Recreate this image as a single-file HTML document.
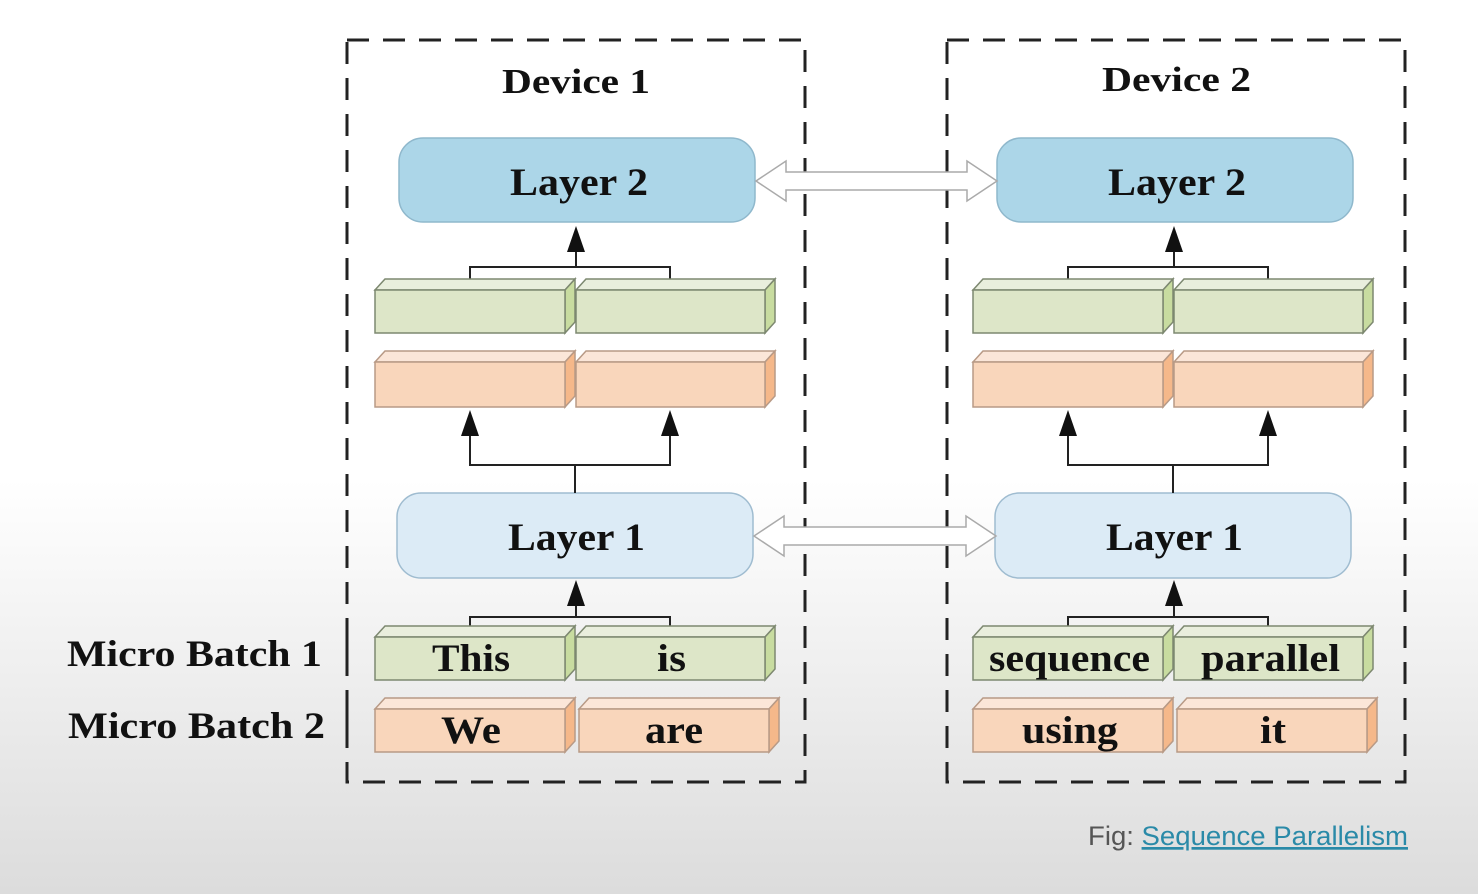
<!DOCTYPE html>
<html><head><style>
body{margin:0;width:1478px;height:894px;overflow:hidden;background:linear-gradient(to bottom,#fff 0,#fff 480px,#dcdcdc 894px);}
svg{position:absolute;left:0;top:0}
text{font-family:"Liberation Serif",serif;font-weight:bold;fill:#111}
</style></head><body>
<svg width="1478" height="894" xmlns="http://www.w3.org/2000/svg">
<g fill="none" stroke="#222" stroke-width="3" stroke-dasharray="22,14">
<rect x="347" y="40" width="458" height="742"/>
<rect x="947" y="40" width="458" height="742"/>
</g>
<text x="502" y="93" font-size="35" textLength="148" lengthAdjust="spacingAndGlyphs">Device 1</text>
<text x="1102" y="91" font-size="35" textLength="149" lengthAdjust="spacingAndGlyphs">Device 2</text>
<text x="67" y="666" font-size="37" textLength="255" lengthAdjust="spacingAndGlyphs">Micro Batch 1</text>
<text x="68" y="738" font-size="37" textLength="257" lengthAdjust="spacingAndGlyphs">Micro Batch 2</text>
<line x1="347" y1="630" x2="347" y2="668" stroke="#222" stroke-width="3"/>
<line x1="347" y1="705" x2="347" y2="745" stroke="#222" stroke-width="3"/>

<g id="dev">
<rect x="399" y="138" width="356" height="84" rx="24" fill="#acd6e8" stroke="#8fb8cc" stroke-width="1.5"/>
<text x="510" y="195" font-size="39" textLength="138" lengthAdjust="spacingAndGlyphs">Layer 2</text>
<rect x="397" y="493" width="356" height="85" rx="24" fill="#dcebf6" stroke="#9fbcd0" stroke-width="1.5"/>
<text x="508" y="550" font-size="39" textLength="137" lengthAdjust="spacingAndGlyphs">Layer 1</text>
<g stroke="#222" stroke-width="2" fill="none">
<polyline points="470,290 470,267 670,267 670,290"/>
<line x1="576" y1="267" x2="576" y2="245"/>
<polyline points="470,430 470,465 670,465 670,430"/>
<line x1="575" y1="465" x2="575" y2="493"/>
<polyline points="470,637 470,617 670,617 670,637"/>
<line x1="576" y1="617" x2="576" y2="600"/>
</g>
<g fill="#111">
<polygon points="576,226 567,252 585,252"/>
<polygon points="470,410 461,436 479,436"/>
<polygon points="670,410 661,436 679,436"/>
<polygon points="576,580 567,606 585,606"/>
</g>
</g>
<use href="#dev" x="598" y="0"/>
</svg>
<svg width="1478" height="894" xmlns="http://www.w3.org/2000/svg" id="b"></svg>
<script>
const s=document.getElementById('b');let h='';
function box(x,y,w,hh,f,t,sd,st,label,lx,lw){
 h+=`<polygon points="${x},${y} ${x+10},${y-11} ${x+w+10},${y-11} ${x+w},${y}" fill="${t}" stroke="${st}" stroke-width="1.5"/>`;
 h+=`<polygon points="${x+w},${y} ${x+w+10},${y-11} ${x+w+10},${y+hh-11} ${x+w},${y+hh}" fill="${sd}" stroke="${st}" stroke-width="1.5"/>`;
 h+=`<rect x="${x}" y="${y}" width="${w}" height="${hh}" fill="${f}" stroke="${st}" stroke-width="1.5"/>`;
 if(label)h+=`<text x="${lx}" y="${y+hh-9}" font-size="39" textLength="${lw}" lengthAdjust="spacingAndGlyphs">${label}</text>`;
}
const G=['#dde6c8','#e9eedd','#c8dca0','#7d8870'],O=['#f9d6bb','#fbe6d8','#f5b88a','#b89a86'];
function dev(dx,l){
 box(375+dx,290,190,43,...G);box(576+dx,290,189,43,...G);
 box(375+dx,362,190,45,...O);box(576+dx,362,189,45,...O);
 box(375+dx,637,190,43,...G,...l[0]);box(576+dx,637,189,43,...G,...l[1]);
 box(375+dx,709,190,43,...O,...l[2]);box(579+dx,709,190,43,...O,...l[3]);
}
dev(0,[['This',432,78],['is',657,29],['We',441,60],['are',645,58]]);
dev(598,[['sequence',989,161],['parallel',1201,139],['using',1022,96],['it',1260,26]]);
function dbl(y,x1,x2){
 h+=`<polygon points="${x1},${y} ${x1+30},${y-20} ${x1+30},${y-9} ${x2-30},${y-9} ${x2-30},${y-20} ${x2},${y} ${x2-30},${y+20} ${x2-30},${y+9} ${x1+30},${y+9} ${x1+30},${y+20}" fill="#fff" stroke="#aaa" stroke-width="1.5"/>`;
}
dbl(181,756,997);dbl(536,754,996);
h+=`<text x="1088" y="845" font-size="27" textLength="320" lengthAdjust="spacingAndGlyphs" style="font-family:'Liberation Sans',sans-serif;font-weight:normal;fill:#555">Fig: <tspan fill="#2a8aa8" text-decoration="underline">Sequence Parallelism</tspan></text>`;
s.innerHTML=h;
</script>
</body></html>
